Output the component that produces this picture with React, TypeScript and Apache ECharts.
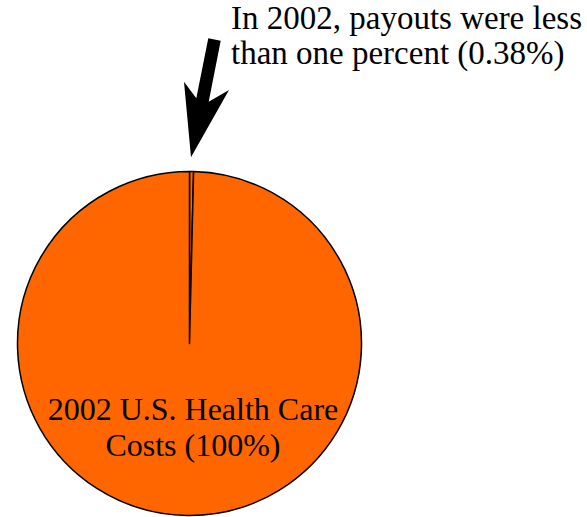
import React, { useEffect, useRef } from "react";
import * as echarts from "echarts";

const sliceNames = ["Malpractice payouts", "2002 U.S. Health Care Costs"];
const sliceValues = [0.38, 99.62];
const sliceColors = ["#FF6600", "#FF6600"];
const mainLabelLines = ["2002 U.S. Health Care", "Costs (100%)"];
const noteLines = ["In 2002, payouts were less", "than one percent (0.38%)"];

export default function App() {
  const ref = useRef<HTMLDivElement>(null);
  useEffect(() => {
    if (!ref.current) return;
    const chart = echarts.init(ref.current, null, { renderer: "svg" });
    const font = "Liberation Serif";
    chart.setOption({
      animation: false,
      backgroundColor: "#ffffff",
      series: [
        {
          type: "pie",
          center: [189.5, 343.5],
          radius: [0, 172],
          startAngle: 90,
          clockwise: true,
          silent: true,
          labelLine: { show: false },
          data: sliceNames.map((n, i) => ({
            name: n,
            value: sliceValues[i],
            itemStyle: {
              color: sliceColors[i],
              borderColor: "#000000",
              borderWidth: 1.5,
            },
            label:
              i === 1
                ? {
                    show: true,
                    position: "inside",
                    formatter: mainLabelLines.join("\n"),
                    fontFamily: font,
                    fontSize: 32,
                    lineHeight: 36,
                    color: "#000000",
                    align: "center",
                    offset: [4.5, -5],
                  }
                : { show: false },
          })),
        },
      ],
      graphic: [
        {
          type: "polygon",
          shape: {
            points: [
              [208.3, 38.3],
              [220.7, 40.7],
              [208.7, 101.7],
              [229, 90],
              [191, 157.3],
              [184, 81.7],
              [196.3, 98.3],
            ],
          },
          style: { fill: "#000000" },
        },
        ...noteLines.map((t, i) => ({
          type: "text",
          x: 231,
          y: 18 + i * 35,
          style: {
            text: t,
            fontFamily: font,
            fontSize: 33,
            fill: "#000000",
            align: "left",
            verticalAlign: "middle",
          },
        })),
      ],
    });
    return () => chart.dispose();
  }, []);
  return (
    <div
      ref={ref}
      style={{ position: "fixed", left: 0, top: 0, width: 587, height: 517 }}
    />
  );
}
